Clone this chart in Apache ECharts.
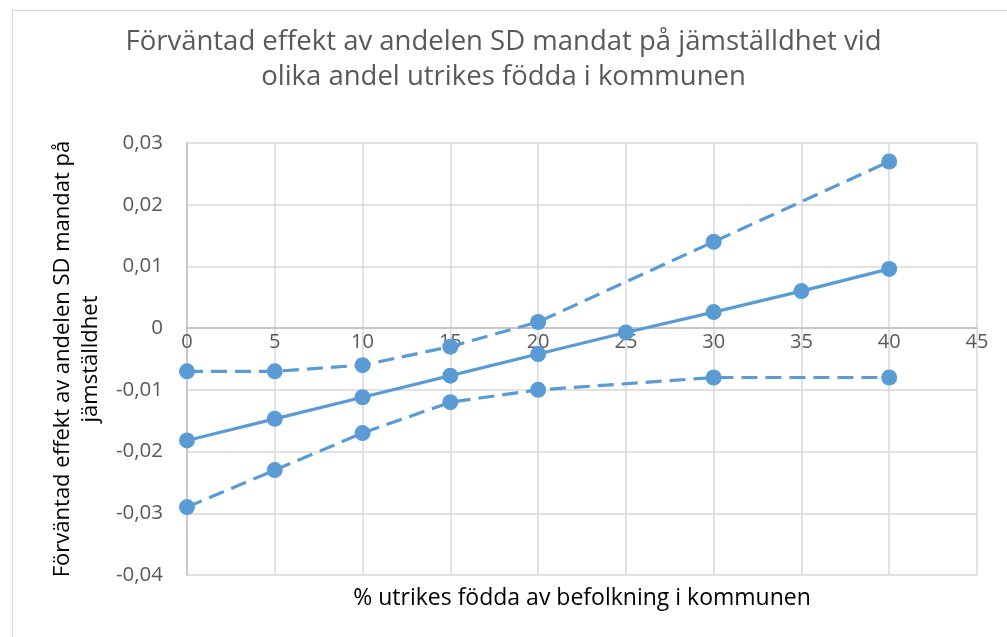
<!DOCTYPE html>
<html>
<head>
<meta charset="utf-8">
<script src="https://cdn.jsdelivr.net/npm/echarts@6/dist/echarts.min.js"></script>
<style>
  html, body { margin: 0; padding: 0; background: #fff; }
  #frame { position: absolute; left: 12px; top: 10px; width: 1010px; height: 640px; border: 1px solid #d9d9d9; }
  #chart { position: absolute; left: 0; top: 0; width: 1007px; height: 637px; }
</style>
</head>
<body>
<div id="frame"></div>
<div id="chart"></div>
<script>
// andel utrikes födda (%)
const xMid = [0, 5, 10, 15, 20, 25, 30, 35, 40]
const yMid = [-0.0182, -0.0147, -0.0112, -0.0077, -0.0042, -0.0007, 0.0026, 0.006, 0.0096]

const xBand = [0, 5, 10, 15, 20, 30, 40]
const yUpper = [-0.007, -0.007, -0.006, -0.003, 0.001, 0.014, 0.027]
const yLower = [-0.029, -0.023, -0.017, -0.012, -0.010, -0.008, -0.008]

const titleText = 'Förväntad effekt av andelen SD mandat på jämställdhet vid\nolika andel utrikes födda i kommunen'
const xName = '% utrikes födda av befolkning i kommunen'
const yName = 'Förväntad effekt av andelen SD mandat på\njämställdhet'

const blue = '#5b9bd5'
const font = 'Open Sans'

const pairs = (xs, ys) => xs.map((x, i) => [x, ys[i]])

const lineSeries = (data, dashed) => ({
  type: 'line',
  data: data,
  symbol: 'circle',
  symbolSize: 16,
  showAllSymbol: true,
  itemStyle: { color: blue },
  lineStyle: { color: blue, width: 3.2, type: dashed ? [16, 8] : 'solid' },
  emphasis: { disabled: true },
  z: dashed ? 2 : 3
})

const chart = echarts.init(document.getElementById('chart'))
chart.setOption({
  animation: false,
  textStyle: { fontFamily: font },
  title: {
    text: titleText,
    left: 'center',
    top: 20,
    textStyle: { fontFamily: font, fontSize: 27.5, fontWeight: 'normal', color: '#595959', lineHeight: 35 }
  },
  grid: { left: 187, right: 30, top: 143, bottom: 62, containLabel: false, outerBoundsMode: 'none' },
  xAxis: {
    type: 'value',
    min: 0,
    max: 45,
    interval: 5,
    name: xName,
    nameLocation: 'middle',
    nameGap: 259,
    nameTextStyle: { fontSize: 23, color: '#000', fontFamily: font },
    axisLine: { show: true, onZero: false, lineStyle: { color: '#bfbfbf', width: 1.5 } },
    axisTick: { show: false },
    axisLabel: { fontSize: 20, color: '#595959', margin: 4 },
    splitLine: { show: true, lineStyle: { color: '#d9d9d9', width: 1.5 } }
  },
  yAxis: {
    type: 'value',
    min: -0.04,
    max: 0.03,
    interval: 0.01,
    name: yName,
    nameLocation: 'middle',
    nameRotate: 90,
    nameGap: 82,
    nameTextStyle: { fontSize: 22, color: '#000', fontFamily: font, lineHeight: 28 },
    axisLine: { show: true, onZero: false, lineStyle: { color: '#bfbfbf', width: 1.5 } },
    axisTick: { show: false },
    axisLabel: {
      fontSize: 20.5,
      color: '#595959',
      margin: 24,
      formatter: v => (Math.abs(v) < 1e-9 ? '0' : v.toFixed(2).replace('.', ','))
    },
    splitLine: { show: true, lineStyle: { color: '#d9d9d9', width: 1.5 } }
  },
  series: [
    lineSeries(pairs(xBand, yUpper), true),
    lineSeries(pairs(xMid, yMid), false),
    lineSeries(pairs(xBand, yLower), true)
  ]
})

// move the x axis up to where y = 0, like the original
const zeroY = chart.convertToPixel({ yAxisIndex: 0 }, 0)
const bottomY = chart.convertToPixel({ yAxisIndex: 0 }, -0.04)
chart.setOption({ xAxis: { offset: zeroY - bottomY } })
</script>
</body>
</html>
